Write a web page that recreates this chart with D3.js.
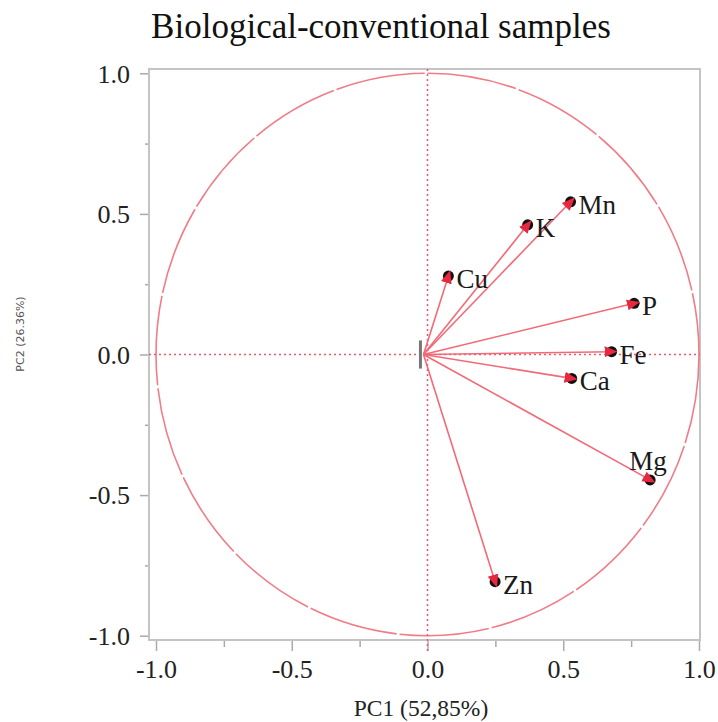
<!DOCTYPE html>
<html>
  <head>
    <script src="https://d3js.org/d3.v7.min.js"></script>
    <style>
      body { margin: 0; background: #fff; }
      .tick-label { font-family: "Liberation Serif", serif; font-size: 26px; fill: #222; }
      .var-label { font-family: "Liberation Serif", serif; font-size: 27px; fill: #1a1a1a; }
    </style>
  </head>
  <body>
    <script>
      // loadings
      var variables = ["Mn", "K", "Cu", "P", "Fe", "Ca", "Mg", "Zn"];
      var pc1 = [0.527, 0.369, 0.077, 0.761, 0.678, 0.531, 0.820, 0.249];
      var pc2 = [0.543, 0.461, 0.279, 0.182, 0.010, -0.085, -0.446, -0.808];

      var majorTicks = [-1, -0.5, 0, 0.5, 1];
      var majorLabels = ["-1.0", "-0.5", "0.0", "0.5", "1.0"];
      var minorTicks = [-0.75, -0.25, 0.25, 0.75];

      var W = 718, H = 722;
      var frame = { left: 149, right: 700, top: 69, bottom: 640 };

      var x = d3.scaleLinear().domain([-1, 1]).range([156, 699]);
      var y = d3.scaleLinear().domain([-1, 1]).range([635.7, 73.3]);

      var svg = d3.select("body").append("svg")
        .attr("width", W)
        .attr("height", H);

      var red = "#f0586a";

      // title
      svg.append("text")
        .attr("x", 381)
        .attr("y", 38)
        .attr("text-anchor", "middle")
        .style("font-family", "'Liberation Serif', serif")
        .style("font-size", "35px")
        .style("fill", "#111")
        .text("Biological-conventional samples");

      // axis titles
      svg.append("text")
        .attr("x", 421)
        .attr("y", 716)
        .attr("text-anchor", "middle")
        .style("font-family", "'Liberation Serif', serif")
        .style("font-size", "23.5px")
        .style("fill", "#222")
        .text("PC1 (52,85%)");

      svg.append("text")
        .attr("transform", "translate(24,334) rotate(-90)")
        .attr("text-anchor", "middle")
        .style("font-family", "'DejaVu Sans', sans-serif")
        .style("font-size", "11px")
        .style("fill", "#555")
        .text("PC2 (26.36%)");

      // x axis: major + minor ticks
      var xMajor = svg.append("g")
        .attr("transform", "translate(0," + frame.bottom + ")")
        .call(d3.axisBottom(x).tickValues(majorTicks).tickSize(11)
          .tickFormat(function(d, i) { return majorLabels[i]; }));
      var xMinor = svg.append("g")
        .attr("transform", "translate(0," + frame.bottom + ")")
        .call(d3.axisBottom(x).tickValues(minorTicks).tickSize(7).tickFormat(""));

      var yMajor = svg.append("g")
        .attr("transform", "translate(" + frame.left + ",0)")
        .call(d3.axisLeft(y).tickValues(majorTicks).tickSize(9)
          .tickFormat(function(d, i) { return majorLabels[i]; }));
      var yMinor = svg.append("g")
        .attr("transform", "translate(" + frame.left + ",0)")
        .call(d3.axisLeft(y).tickValues(minorTicks).tickSize(4).tickFormat(""));

      [xMajor, xMinor, yMajor, yMinor].forEach(function(g) {
        g.select(".domain").remove();
        g.selectAll(".tick line").attr("stroke", "#aaa").attr("stroke-width", 1.5);
        g.selectAll(".tick text").attr("class", "tick-label").attr("font-size", null).attr("font-family", null);
      });
      xMajor.selectAll(".tick text").attr("dy", "0.95em").attr("y", 13);
      yMajor.selectAll(".tick text").attr("x", -19).attr("dy", "0.34em");

      // frame
      svg.append("rect")
        .attr("x", frame.left)
        .attr("y", frame.top)
        .attr("width", frame.right - frame.left)
        .attr("height", frame.bottom - frame.top)
        .attr("fill", "none")
        .attr("stroke", "#c4c4c4")
        .attr("stroke-width", 2);

      // unit circle
      svg.append("ellipse")
        .attr("cx", x(0))
        .attr("cy", y(0))
        .attr("rx", x(1) - x(0))
        .attr("ry", y(0) - y(1))
        .attr("fill", "none")
        .attr("stroke", "#f07c88")
        .attr("stroke-width", 1.6)
        .attr("stroke-dasharray", "90 3");

      // dotted lines through the origin
      svg.append("line")
        .attr("x1", x(0)).attr("x2", x(0))
        .attr("y1", frame.top).attr("y2", frame.bottom + 14)
        .attr("stroke", red)
        .attr("stroke-width", 1.5)
        .attr("stroke-dasharray", "2 3");
      svg.append("line")
        .attr("x1", frame.left).attr("x2", frame.right)
        .attr("y1", y(0)).attr("y2", y(0))
        .attr("stroke", red)
        .attr("stroke-width", 1.5)
        .attr("stroke-dasharray", "2 3");

      // arrowhead marker, sitting over the dot
      svg.append("defs").append("marker")
        .attr("id", "head")
        .attr("markerUnits", "userSpaceOnUse")
        .attr("viewBox", "0 -6 13 12")
        .attr("refX", 7)
        .attr("refY", 0)
        .attr("markerWidth", 13)
        .attr("markerHeight", 12)
        .attr("orient", "auto")
        .append("path")
        .attr("d", "M0,-5.5L13,0L0,5.5Z")
        .attr("fill", "#e8283e");

      var data = variables.map(function(v, i) { return { name: v, a: pc1[i], b: pc2[i] }; });

      // black dots first, arrows over them
      svg.selectAll(".dot")
        .data(data)
        .enter().append("circle")
        .attr("class", "dot")
        .attr("cx", function(d) { return x(d.a); })
        .attr("cy", function(d) { return y(d.b); })
        .attr("r", 5.5)
        .attr("fill", "#111");

      svg.selectAll(".arrow")
        .data(data)
        .enter().append("line")
        .attr("class", "arrow")
        .attr("x1", x(0) - 4)
        .attr("y1", y(0))
        .attr("x2", function(d) { return x(d.a); })
        .attr("y2", function(d) { return y(d.b); })
        .attr("stroke", "#f26a78")
        .attr("stroke-width", 1.6)
        .attr("marker-end", "url(#head)");

      // small grey bar at the origin
      svg.append("line")
        .attr("x1", x(-0.026)).attr("x2", x(-0.026))
        .attr("y1", y(0.05)).attr("y2", y(-0.05))
        .attr("stroke", "#777")
        .attr("stroke-width", 3);

      svg.selectAll(".var-label")
        .data(data)
        .enter().append("text")
        .attr("class", "var-label")
        .attr("x", function(d) { return d.name === "Mg" ? x(d.a) - 2 : x(d.a) + 8; })
        .attr("y", function(d) { return d.name === "Mg" ? y(d.b) - 10 : y(d.b) + 12; })
        .attr("text-anchor", function(d) { return d.name === "Mg" ? "middle" : "start"; })
        .text(function(d) { return d.name; });
    </script>
  </body>
</html>
